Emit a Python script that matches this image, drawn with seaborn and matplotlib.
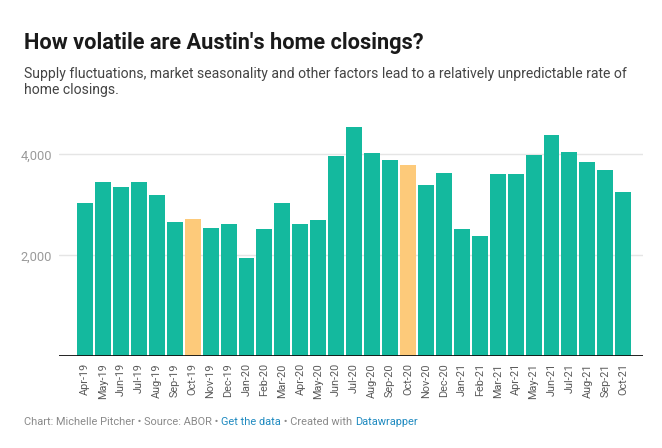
import pandas as pd
import numpy as np
import matplotlib.pyplot as plt
import seaborn as sns

sns.set_theme(style="white")
plt.rcParams["font.family"] = ["Roboto", "DejaVu Sans"]

# Datos: cierres mensuales de viviendas en Austin
months = ["Apr-19", "May-19", "Jun-19", "Jul-19", "Aug-19", "Sep-19", "Oct-19",
          "Nov-19", "Dec-19", "Jan-20", "Feb-20", "Mar-20", "Apr-20", "May-20",
          "Jun-20", "Jul-20", "Aug-20", "Sep-20", "Oct-20", "Nov-20", "Dec-20",
          "Jan-21", "Feb-21", "Mar-21", "Apr-21", "May-21", "Jun-21", "Jul-21",
          "Aug-21", "Sep-21", "Oct-21"]
closings = [3035, 3450, 3350, 3450, 3195, 2660, 2720,
            2540, 2620, 1945, 2520, 3035, 2620, 2700,
            3965, 4540, 4025, 3885, 3790, 3390, 3630,
            2520, 2380, 3610, 3610, 3985, 4380, 4045,
            3845, 3690, 3255]
highlighted = ["Oct-19", "Oct-20"]
yticks = [2000, 4000]

teal = "#14b99e"
orange = "#fdca7a"

df = pd.DataFrame({"month": months, "closings": closings})
palette = {m: (orange if m in highlighted else teal) for m in months}

fig = plt.figure(figsize=(6.62, 4.48), dpi=100)
ax = fig.add_axes([59 / 662, 1 - 356.3 / 448, (643 - 59) / 662, (356.3 - 124) / 448])

sns.barplot(data=df, x="month", y="closings", hue="month", palette=palette,
            width=0.89, saturation=1, linewidth=0, legend=False, ax=ax, zorder=2)

ax.set_xlim(-1.45, 31.1)
ax.set_ylim(0, 4600)
ax.set_xlabel("")
ax.set_ylabel("")

# Rejilla
for v in yticks:
    ax.axhline(v, color="#e5e5e5", lw=1, zorder=0)
ax.axhline(0, color="#111111", lw=1.3, zorder=3)

ax.set_yticks(yticks)
ax.set_yticklabels([f"{v:,}" for v in yticks], color="#9a9a9a", fontsize=9.3)
ax.tick_params(axis="y", length=0, pad=5)
ax.tick_params(axis="x", length=0, pad=5)
plt.setp(ax.get_xticklabels(), rotation=90, fontsize=7.8, color="#5a5a5a")
for s in ax.spines.values():
    s.set_visible(False)

# Títulos
fig.text(24 / 662, 1 - 43 / 448, "How volatile are Austin's home closings?",
         fontsize=15.7, fontweight="bold", color="#1a1a1a", va="center")
fig.text(24 / 662, 1 - 74 / 448,
         "Supply fluctuations, market seasonality and other factors lead to a relatively unpredictable rate of",
         fontsize=10.1, color="#444444", va="center")
fig.text(24 / 662, 1 - 90 / 448, "home closings.",
         fontsize=10.1, color="#444444", va="center")

# Pie de gráfica
parts = [("Chart: Michelle Pitcher • Source: ABOR • ", "#8a8a8a"),
         ("Get the data", "#1f8ac0"),
         (" • Created with ", "#8a8a8a"),
         ("Datawrapper", "#1f8ac0")]
renderer = fig.canvas.get_renderer()
x0 = 24
for txt, col in parts:
    t = fig.text(x0 / 662, 1 - 422 / 448, txt, fontsize=7.9, color=col, va="center")
    bb = t.get_window_extent(renderer=renderer)
    x0 += bb.width

fig.savefig("out.png", dpi=100)
